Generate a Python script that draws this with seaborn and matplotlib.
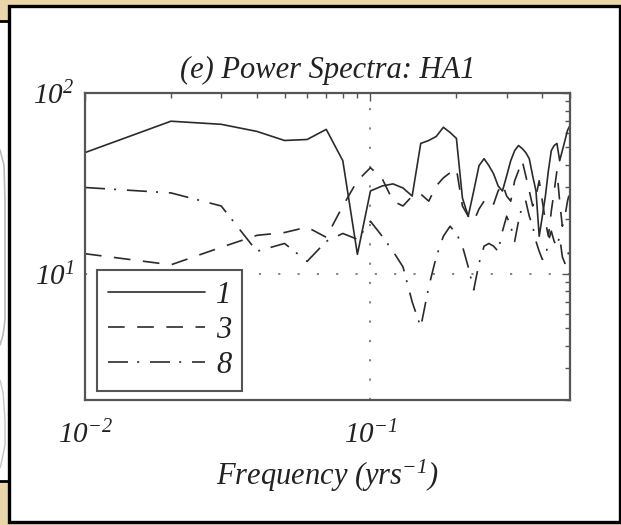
import numpy as np
import pandas as pd
import matplotlib
matplotlib.use("Agg")
import matplotlib.pyplot as plt
from matplotlib.patches import Rectangle
from matplotlib.lines import Line2D
from matplotlib.ticker import LogLocator, FixedLocator, FuncFormatter, NullFormatter
import seaborn as sns

# Fourier frequencies of a 100-year annual record (cycles per year)
freq = [0.01, 0.02, 0.03, 0.04, 0.05, 0.06, 0.07, 0.08, 0.09, 0.10,
        0.11, 0.12, 0.13, 0.14, 0.15, 0.16, 0.17, 0.18, 0.19, 0.20,
        0.21, 0.22, 0.23, 0.24, 0.25, 0.26, 0.27, 0.28, 0.29, 0.30,
        0.31, 0.32, 0.33, 0.34, 0.35, 0.36, 0.37, 0.38, 0.39, 0.40,
        0.41, 0.42, 0.43, 0.44, 0.45, 0.46, 0.47, 0.48, 0.49, 0.50]

# Power spectra for the three series
power_1 = [46.8, 69.8, 67.1, 61.3, 54.6, 55.3, 62.9, 42.2, 12.8, 28.7,
           30.6, 31.4, 29.8, 26.9, 52.6, 54.6, 57.5, 64.6, 60.5, 56.1,
           26.2, 20.8, 28.7, 39.6, 43.3, 39.6, 35.7, 30.6, 28.7, 34.8,
           42.2, 48.0, 51.2, 49.3, 46.8, 43.3, 34.8, 28.7, 16.1, 20.8,
           26.9, 37.1, 48.0, 51.2, 52.6, 42.2, 48.0, 54.6, 62.1, 66.2]

power_3 = [12.9, 11.2, 14.0, 16.3, 16.9, 18.1, 15.9, 23.7, 32.7, 38.6,
           33.5, 25.2, 23.7, 26.9, 27.6, 25.2, 30.6, 33.9, 36.2, 38.1,
           23.7, 20.8, 19.5, 22.8, 25.2, 26.2, 24.3, 28.7, 31.4, 26.9,
           25.2, 32.7, 37.1, 42.2, 34.8, 28.7, 23.7, 26.9, 32.7, 25.2,
           19.5, 16.1, 22.2, 28.7, 37.1, 25.2, 18.3, 20.8, 25.2, 28.7]

power_8 = [30.0, 28.0, 23.7, 13.3, 14.7, 11.7, 15.1, 16.7, 15.5, 19.5,
           16.1, 13.3, 10.9, 6.98, 5.06, 8.46, 12.4, 16.1, 18.3, 16.7,
           14.2, 10.9, 8.14, 11.4, 14.2, 14.7, 14.2, 13.3, 17.2, 20.8,
           18.3, 15.1, 19.5, 23.7, 25.2, 20.8, 18.3, 15.1, 13.3, 12.0,
           12.4, 15.1, 17.2, 15.1, 14.2, 16.1, 12.4, 11.4, 12.4, 14.2]

series_names = ["1", "3", "8"]

df = pd.DataFrame({
    "freq": freq * 3,
    "power": power_1 + power_3 + power_8,
    "series": [s for s in series_names for _ in freq],
})

sns.set_theme(style="white")
plt.rcParams["font.family"] = ["Liberation Serif", "DejaVu Serif"]
plt.rcParams["font.style"] = "italic"
# math pieces (exponents) reuse the surrounding italic serif font
plt.rcParams["mathtext.default"] = "regular"

W, H = 621, 525
fig = plt.figure(figsize=(W / 100, H / 100), dpi=100)
fig.patch.set_facecolor("#e9d6ab")


def px_rect(x0, y0, x1, y1, **kw):
    """Rectangle given in pixel coordinates measured from the top-left corner."""
    return Rectangle((x0 / W, 1 - y1 / H), (x1 - x0) / W, (y1 - y0) / H,
                     transform=fig.transFigure, zorder=-5, **kw)


def px_line(xs, ys, **kw):
    """Polyline given in pixel coordinates measured from the top-left corner."""
    return Line2D([x / W for x in xs], [1 - y / H for y in ys],
                  transform=fig.transFigure, zorder=-4, **kw)


# neighbouring panel peeking in on the left, then the main white panel
fig.patches.append(px_rect(-20, 21, 9, 481, facecolor="white",
                           edgecolor="black", linewidth=2.0))
fig.lines.append(px_line([0, 4, 5, 5, 3, 0], [150, 165, 200, 320, 335, 345],
                         color="#b8b8b8", linewidth=1.2))
fig.lines.append(px_line([0, 3, 5, 5, 2, 0], [380, 392, 420, 445, 460, 468],
                         color="#c4c4c4", linewidth=1.0))
fig.patches.append(px_rect(9, 6, 620, 522, facecolor="white",
                           edgecolor="black", linewidth=2.4))

ax_l, ax_r, ax_t, ax_b = 85, 570, 93, 400
ax = fig.add_axes([ax_l / W, 1 - ax_b / H, (ax_r - ax_l) / W, (ax_b - ax_t) / H])
ax.set_zorder(2)
ax.set_facecolor("white")

line_color = "#2b2b2b"
styles = {
    "1": "-",
    "3": (0, (10, 7.5)),
    "8": (0, (12, 5.5, 1.2, 6.5)),
}
for name in series_names:
    sub = df[df["series"] == name]
    sns.lineplot(data=sub, x="freq", y="power", ax=ax, color=line_color,
                 linewidth=1.2, linestyle=styles[name], label=name,
                 estimator=None, sort=False)

ax.set_xscale("log")
ax.set_yscale("log")
ax.set_xlim(0.01, 0.5)
ax.set_ylim(2.0, 100)

ax.xaxis.set_major_locator(FixedLocator([0.01, 0.1]))
ax.yaxis.set_major_locator(FixedLocator([10, 100]))
ax.xaxis.set_minor_locator(LogLocator(base=10, subs=np.arange(2, 10), numticks=20))
ax.yaxis.set_minor_locator(LogLocator(base=10, subs=np.arange(2, 10), numticks=20))
ax.xaxis.set_minor_formatter(NullFormatter())
ax.yaxis.set_minor_formatter(NullFormatter())


def pow10(v, pos):
    e = int(round(np.log10(v)))
    return r"10$^{%d}$" % e


ax.xaxis.set_major_formatter(FuncFormatter(pow10))
ax.yaxis.set_major_formatter(FuncFormatter(pow10))

ax.tick_params(which="both", direction="in", top=True, right=True,
               color="#555555", width=1.0)
ax.tick_params(which="major", length=6, labelsize=21, labelcolor="#222222")
ax.tick_params(which="minor", length=3.5)
ax.tick_params(axis="x", which="major", pad=15)
ax.tick_params(axis="y", which="major", pad=8)

for sp in ax.spines.values():
    sp.set_color("#555555")
    sp.set_linewidth(1.6)

ax.grid(True, which="major", color="#777777", linestyle=(0, (1.2, 9.5)),
        linewidth=1.3)
ax.grid(False, which="minor")

ax.set_title("(e) Power Spectra: HA1", fontsize=22, color="#222222",
             style="italic", pad=11)
ax.set_xlabel(r"Frequency (yrs$^{-1}$)", fontsize=22, color="#222222",
              style="italic", labelpad=6)
ax.set_ylabel("")

leg = ax.legend(loc="lower left", bbox_to_anchor=((97 - ax_l) / (ax_r - ax_l), 0.03),
                borderaxespad=0, frameon=True, fancybox=False, framealpha=1,
                handlelength=3.2, handletextpad=0.35, labelspacing=0.2,
                borderpad=0.35, prop={"family": "Liberation Serif",
                                      "style": "italic", "size": 22})
leg.get_frame().set_edgecolor("#555555")
leg.get_frame().set_linewidth(1.5)
for t in leg.get_texts():
    t.set_color("#222222")

fig.savefig("out.png", dpi=100, facecolor=fig.get_facecolor())
